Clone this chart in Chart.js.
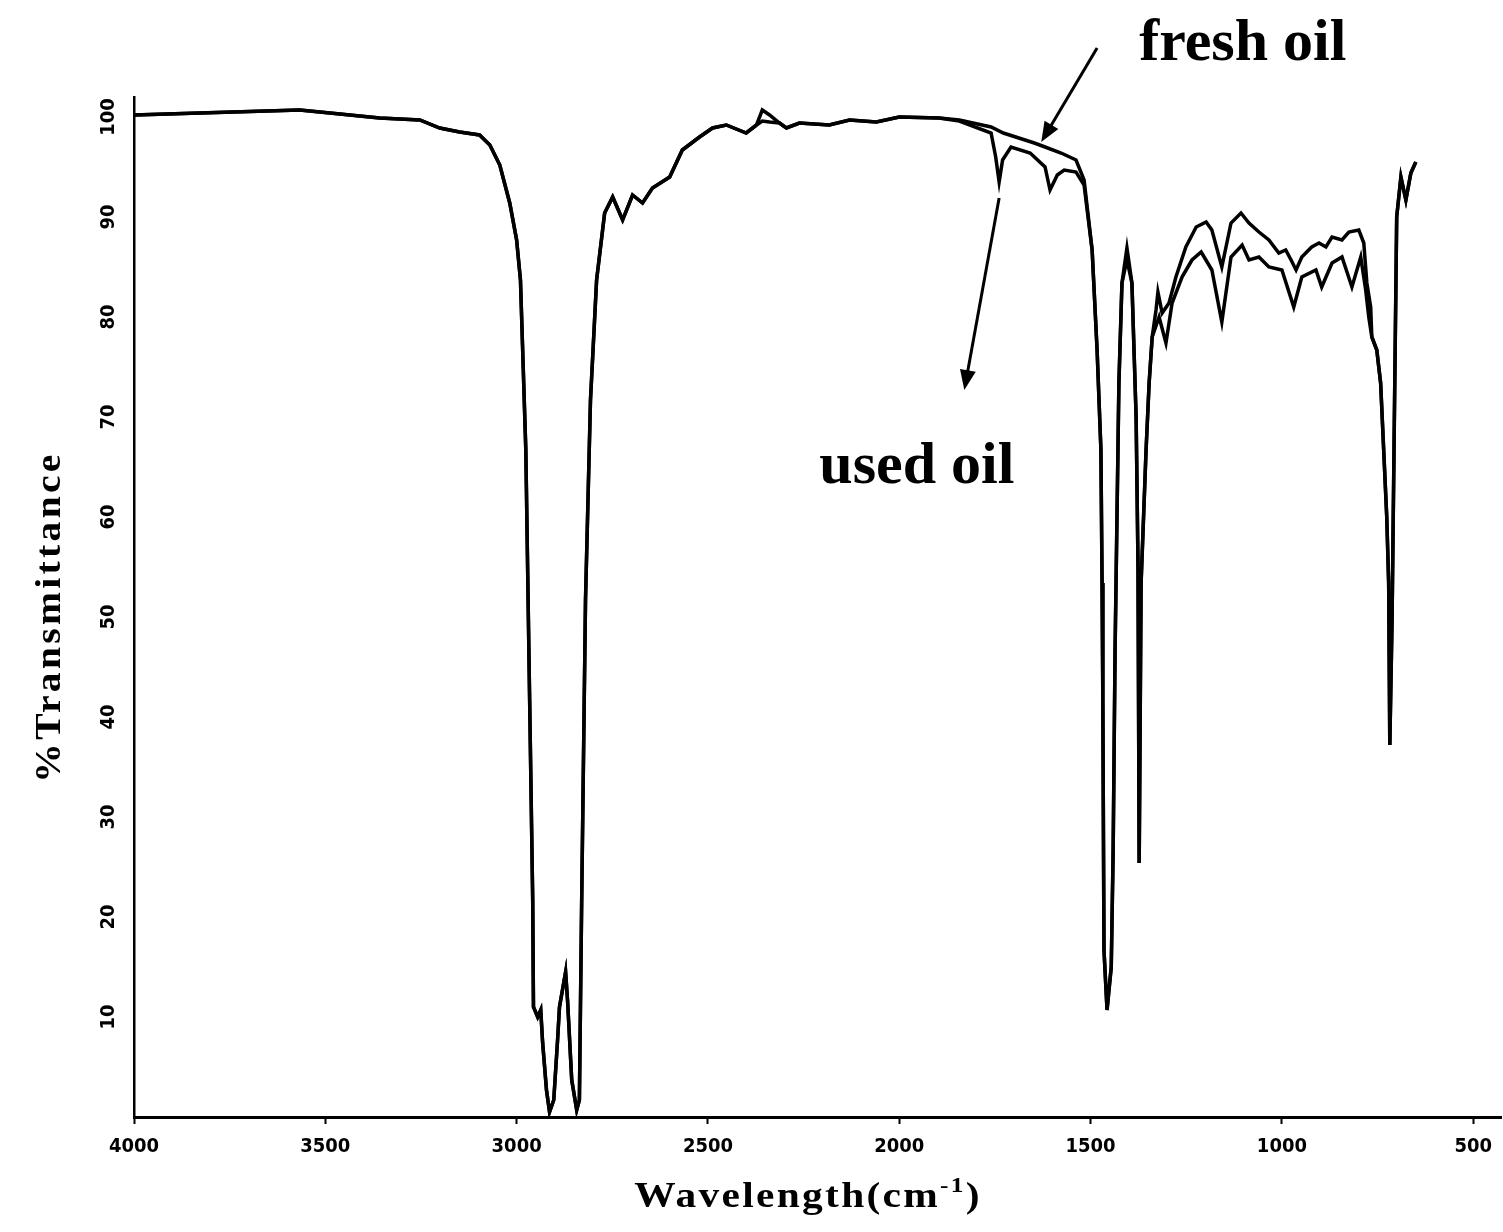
<!DOCTYPE html>
<html>
<head>
<meta charset="utf-8">
<title>IR spectrum – fresh and used oil</title>
<script src="https://cdn.jsdelivr.net/npm/chart.js@4.4.1/dist/chart.umd.min.js"></script>
<style>
  html, body { margin: 0; padding: 0; background: #fff; }
  #wrap { width: 1503px; height: 1232px; position: relative; }
</style>
</head>
<body>
<div id="wrap"><canvas id="irChart"></canvas></div>
<script>
// axis ticks
var xTicks = [4000, 3500, 3000, 2500, 2000, 1500, 1000, 500];
var yTicks = [10, 20, 30, 40, 50, 60, 70, 80, 90, 100];

// fresh oil: wavenumber (cm-1) and % transmittance
var freshWn = [4000,3828,3567,3488,3358,3253,3201,3149,3097,3070,3044,3018,3000,2990,2976,2966,2958,2956,2945,2937,
  2932,2922,2914,2903,2893,2888,2872,2867,2856,2843,2836,2830,2820,2807,2791,2770,2749,2723,2697,2671,
  2645,2600,2567,2522,2488,2452,2400,2373,2358,2339,2313,2295,2261,2183,2130,2060,2000,1896,1843,1760,
  1728,1647,1619,1577,1538,1517,1496,1483,1473,1470,1468,1465,1457,1446,1441,1436,1426,1418,1405,1392,
  1381,1376,1373,1368,1355,1347,1339,1329,1324,1313,1295,1277,1251,1224,1198,1183,1157,1133,1107,1086,
  1060,1034,1008,990,976,963,948,922,903,885,869,843,825,799,786,778,768,765,752,742,
  734,726,721,718,712,707,702,700,689,676,663,650];
var freshT = [100.2,100.4,100.7,100.4,99.9,99.7,98.9,98.5,98.2,97.2,95.2,91.4,87.7,83.7,66.7,41.7,21.7,11.0,10.0,10.7,
  7.4,2.7,0.5,1.7,7.7,11.0,14.5,11.7,3.7,0.7,1.7,21.7,51.7,71.7,83.7,90.4,92.0,89.7,92.2,91.4,
  92.9,94.0,96.7,98.0,98.9,99.2,98.4,99.2,100.7,100.2,99.4,98.9,99.4,99.2,99.7,99.5,100.0,99.9,99.7,99.0,
  98.4,97.4,97.0,96.4,95.7,93.7,86.7,76.7,66.7,53.4,41.7,16.7,10.7,15.0,26.7,46.7,73.4,83.4,86.9,83.4,
  70.0,55.0,25.4,53.4,66.7,73.4,78.0,80.7,82.5,80.4,81.4,84.0,87.0,89.0,89.5,88.7,85.0,89.4,90.4,89.4,
  88.5,87.7,86.4,86.7,85.7,84.7,86.0,87.0,87.4,87.0,88.0,87.7,88.5,88.7,87.4,83.4,81.0,78.0,76.7,73.4,
  66.7,60.0,53.4,37.2,50.0,66.7,83.4,90.0,94.0,91.7,94.4,95.5];

// used oil
var usedWn = [4000,3828,3567,3488,3358,3253,3201,3149,3097,3070,3044,3018,3000,2990,2976,2966,2958,2956,2945,2937,
  2932,2922,2914,2903,2893,2888,2872,2867,2856,2843,2836,2830,2820,2807,2791,2770,2749,2723,2697,2671,
  2645,2600,2567,2522,2488,2452,2400,2373,2358,2339,2313,2295,2261,2183,2130,2060,2000,1896,1843,
  1760,1748,1739,1730,1708,1658,1619,1606,1587,1569,1538,1517,
  1496,1483,1473,1470,1468,1465,1457,1446,1441,1436,1426,1418,1405,1392,1381,1376,1373,1368,1355,1347,1339,
  1321,1303,1287,1261,1235,1211,1183,1157,1133,1104,1086,1060,1034,1000,969,948,911,896,869,843,817,794,781,773,765,
  752,742,734,726,721,718,712,707,702,700,689,676,663,650];
var usedT = [100.2,100.4,100.7,100.4,99.9,99.7,98.9,98.5,98.2,97.2,95.2,91.4,87.7,83.7,66.7,41.7,21.7,11.0,10.0,10.7,
  7.4,2.7,0.5,1.7,7.7,11.0,14.5,11.7,3.7,0.7,1.7,21.7,51.7,71.7,83.7,90.4,92.0,89.7,92.2,91.4,
  92.9,94.0,96.7,98.0,98.9,99.2,98.4,99.2,99.6,99.5,99.4,98.9,99.4,99.2,99.7,99.5,100.0,99.9,99.6,
  98.4,96.0,93.5,95.7,97.0,96.4,95.0,92.7,94.2,94.7,94.5,93.2,
  86.7,76.7,66.7,53.4,41.7,16.7,10.7,15.0,26.7,46.7,73.4,83.4,85.7,83.4,70.0,55.0,25.4,53.4,66.7,73.4,78.0,
  80.0,77.4,81.4,84.0,85.7,86.5,84.7,79.5,86.0,87.2,85.7,86.0,85.0,84.7,81.0,84.0,84.7,83.0,85.4,86.0,83.0,86.0,82.7,80.0,78.0,
  76.7,73.4,66.7,60.0,53.4,37.2,50.0,66.7,83.4,90.0,94.0,91.7,94.4,95.5];

// callouts, placed in data units
var noteText = ['fresh oil', 'used oil'];
var noteWn = [1373, 2209];
var noteT = [105.7, 63.4];
var arrowFrom = [[1483, 106.9], [1739, 91.9]];
var arrowTo = [[1629, 97.5], [1830, 72.7]];

function toPoints(wn, t) {
  return wn.map(function (w, i) { return { x: w, y: t[i] }; });
}

var serif = '"Liberation Serif", "Times New Roman", serif';
var narrow = '"Liberation Sans Narrow", "DejaVu Sans Condensed", "DejaVu Sans", sans-serif';

var callouts = {
  id: 'callouts',
  afterDatasetsDraw: function (chart) {
    var ctx = chart.ctx, xs = chart.scales.x, ys = chart.scales.y;
    ctx.save();
    ctx.fillStyle = '#000';
    ctx.strokeStyle = '#000';
    ctx.font = 'bold 60px ' + serif;
    ctx.textAlign = 'left';
    ctx.textBaseline = 'alphabetic';
    noteText.forEach(function (txt, i) {
      ctx.fillText(txt, xs.getPixelForValue(noteWn[i]), ys.getPixelForValue(noteT[i]));
    });
    ctx.lineWidth = 3;
    arrowFrom.forEach(function (p, i) {
      var x0 = xs.getPixelForValue(p[0]), y0 = ys.getPixelForValue(p[1]);
      var x1 = xs.getPixelForValue(arrowTo[i][0]), y1 = ys.getPixelForValue(arrowTo[i][1]);
      var a = Math.atan2(y1 - y0, x1 - x0), len = 20, half = 8;
      ctx.beginPath();
      ctx.moveTo(x0, y0);
      ctx.lineTo(x1 - len * 0.6 * Math.cos(a), y1 - len * 0.6 * Math.sin(a));
      ctx.stroke();
      ctx.beginPath();
      ctx.moveTo(x1, y1);
      ctx.lineTo(x1 - len * Math.cos(a) + half * Math.sin(a), y1 - len * Math.sin(a) - half * Math.cos(a));
      ctx.lineTo(x1 - len * Math.cos(a) - half * Math.sin(a), y1 - len * Math.sin(a) + half * Math.cos(a));
      ctx.closePath();
      ctx.fill();
    });
    ctx.restore();
  }
};

// axis titles: wide bold serif, spaced letters, raised exponent
var axisTitles = {
  id: 'axisTitles',
  afterDraw: function (chart) {
    var ctx = chart.ctx, area = chart.chartArea;
    var big = 'bold 36px ' + serif, small = 'bold 22px ' + serif;

    ctx.save();
    ctx.fillStyle = '#000';
    ctx.textAlign = 'left';
    ctx.textBaseline = 'alphabetic';
    ctx.letterSpacing = '2px';
    ctx.font = big;
    var w1 = ctx.measureText('Wavelength(cm').width;
    var w3 = ctx.measureText(')').width;
    ctx.font = small;
    var w2 = ctx.measureText('-1').width;
    var sx = 1.15;
    var cx = (area.left + area.right) / 2 - 10;
    ctx.translate(cx - (w1 + w2 + w3) * sx / 2, chart.height - 25);
    ctx.scale(sx, 1);
    ctx.font = big;
    ctx.fillText('Wavelength(cm', 0, 0);
    ctx.font = small;
    ctx.fillText('-1', w1, -15);
    ctx.font = big;
    ctx.fillText(')', w1 + w2, 0);
    ctx.restore();

    ctx.save();
    ctx.fillStyle = '#000';
    ctx.textAlign = 'center';
    ctx.textBaseline = 'alphabetic';
    ctx.letterSpacing = '3px';
    ctx.font = big;
    ctx.translate(60, (area.top + area.bottom) / 2 + 10);
    ctx.rotate(-Math.PI / 2);
    ctx.scale(1.1, 1);
    ctx.fillText('%Transmittance', 0, 0);
    ctx.restore();
  }
};

new Chart(document.getElementById('irChart'), {
  type: 'line',
  data: {
    datasets: [{
      label: 'fresh oil',
      data: toPoints(freshWn, freshT),
      borderColor: '#000',
      borderWidth: 3.5,
      pointRadius: 0,
      tension: 0,
      fill: false
    }, {
      label: 'used oil',
      data: toPoints(usedWn, usedT),
      borderColor: '#000',
      borderWidth: 3.5,
      pointRadius: 0,
      tension: 0,
      fill: false
    }]
  },
  options: {
    responsive: true,
    maintainAspectRatio: false,
    animation: false,
    layout: { padding: { top: 97, right: 0, bottom: 0, left: 0 } },
    plugins: {
      legend: { display: false },
      tooltip: { enabled: false }
    },
    scales: {
      x: {
        type: 'linear',
        reverse: true,
        min: 425,
        max: 4000,
        afterBuildTicks: function (scale) {
          scale.ticks = xTicks.map(function (v) { return { value: v }; });
        },
        afterFit: function (scale) { scale.height = 115; },
        grid: { display: true, drawOnChartArea: false, drawTicks: true, tickLength: 7, tickWidth: 2, color: '#000' },
        border: { display: true, color: '#000', width: 3 },
        ticks: {
          color: '#000',
          font: { family: narrow, weight: 'bold', size: 20 },
          padding: 11,
          minRotation: 0,
          maxRotation: 0,
          autoSkip: false,
          callback: function (v) { return String(v); }
        }
      },
      y: {
        min: 0,
        max: 102,
        afterBuildTicks: function (scale) {
          scale.ticks = yTicks.map(function (v) { return { value: v }; });
        },
        afterFit: function (scale) { scale.width = 134; },
        grid: { display: false, drawTicks: true, tickLength: 3 },
        border: { display: true, color: '#000', width: 2.5, dash: [4, 3] },
        ticks: {
          color: '#000',
          font: { family: narrow, weight: 'bold', size: 20 },
          padding: 3,
          minRotation: 90,
          maxRotation: 90,
          crossAlign: 'center',
          autoSkip: false,
          callback: function (v) { return String(v); }
        }
      }
    }
  },
  plugins: [callouts, axisTitles]
});
</script>
</body>
</html>
